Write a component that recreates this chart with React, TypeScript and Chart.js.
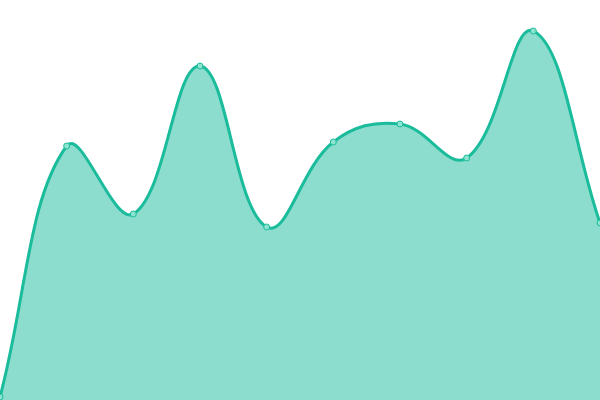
import React, { useEffect, useRef } from "react";
import Chart from "chart.js/auto";

const LABELS = ["1", "2", "3", "4", "5", "6", "7", "8", "9", "10"];
const VALUES = [3, 254, 186, 334, 173, 258, 276, 242, 369, 177];
const Y_MIN = 0;
const Y_MAX = 400;

export default function App() {
  const canvasRef = useRef<HTMLCanvasElement | null>(null);
  const chartRef = useRef<any>(null);

  useEffect(() => {
    document.body.style.margin = "0";
    if (!canvasRef.current) return;
    if (chartRef.current) chartRef.current.destroy();

    chartRef.current = new Chart(canvasRef.current, {
      type: "line",
      data: {
        labels: LABELS,
        datasets: [
          {
            data: VALUES,
            fill: true,
            tension: 0.4,
            borderColor: "#1abc9c",
            borderWidth: 3,
            backgroundColor: "rgba(26,188,156,0.5)",
            pointRadius: 3,
            pointBorderWidth: 1,
            pointBackgroundColor: "#8ee3d0",
            pointBorderColor: "#1abc9c",
          },
        ],
      },
      options: {
        responsive: false,
        animation: false,
        layout: { padding: 0, autoPadding: false },
        plugins: {
          legend: { display: false },
          tooltip: { enabled: false },
        },
        scales: {
          x: { display: false },
          y: { display: false, min: Y_MIN, max: Y_MAX },
        },
      },
    });

    return () => {
      if (chartRef.current) {
        chartRef.current.destroy();
        chartRef.current = null;
      }
    };
  }, []);

  return (
    <div style={{ position: "fixed", left: 0, top: 0, width: 600, height: 400 }}>
      <canvas ref={canvasRef} width={600} height={400} style={{ width: 600, height: 400 }}></canvas>
    </div>
  );
}
